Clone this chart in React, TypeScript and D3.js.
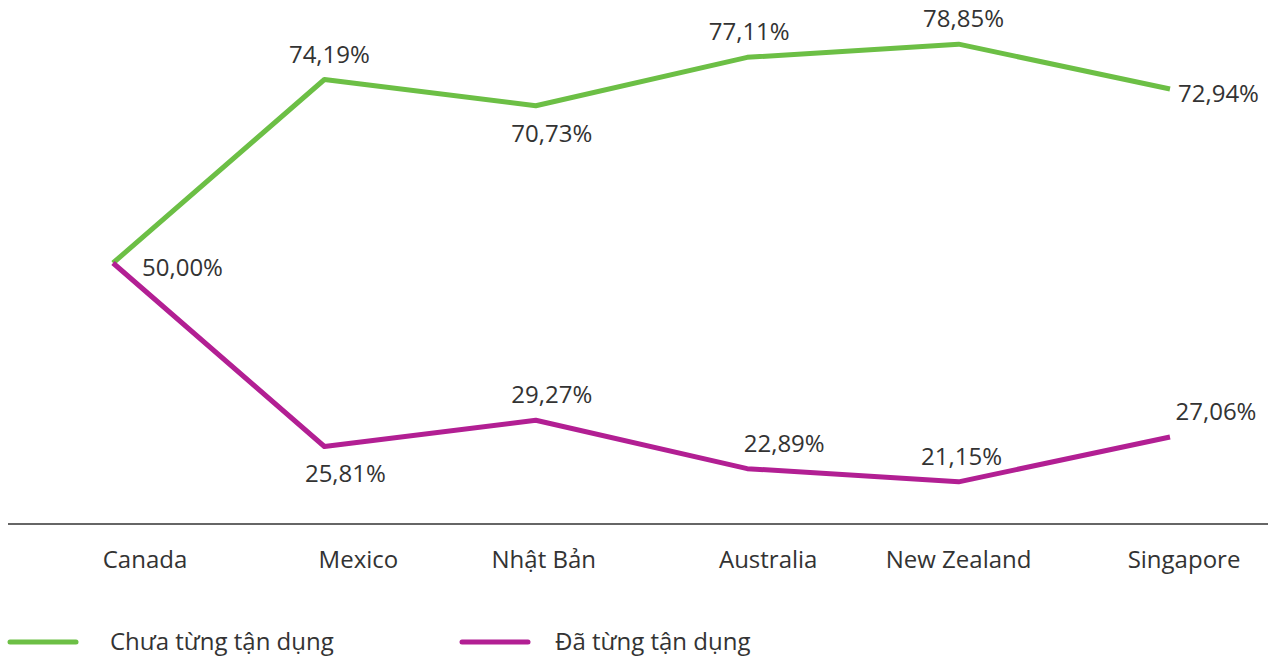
import { useEffect, useRef } from 'react'
import * as d3 from 'd3'

const categories = ['Canada', 'Mexico', 'Nhật Bản', 'Australia', 'New Zealand', 'Singapore']
const chuaTung = [50.0, 74.19, 70.73, 77.11, 78.85, 72.94]
const daTung = [50.0, 25.81, 29.27, 22.89, 21.15, 27.06]
const seriesNames = ['Chưa từng tận dụng', 'Đã từng tận dụng']
const seriesColors = ['#6cbf45', '#b21f93']

// label placement per point (layout only)
const greenPlace = ['right', 'above', 'below', 'above', 'above', 'right']
const greenDx = [29, 5, 16, 2, 5, 8]
const pinkPlace = ['none', 'below', 'above', 'above', 'above', 'above']
const pinkDx = [0, 21, 16, 37, 3, 46]
const catNudge = [32, 34, 8, 21, 0, 14]

const W = 1268
const H = 657
const fmt = (v: number) => v.toFixed(2).replace('.', ',') + '%'

export default function App() {
  const ref = useRef<SVGSVGElement>(null)
  useEffect(() => {
    const svg = d3.select(ref.current)
    svg.selectAll('*').remove()
    const font = "'Open Sans', 'Noto Sans', sans-serif"
    const textColor = '#333'

    const x = d3.scalePoint<string>().domain(categories).range([113, 1170])
    const y = d3.scaleLinear().domain([15, 85]).range([528.5, -2.5])

    // baseline axis
    svg.append('line')
      .attr('x1', 8).attr('x2', W).attr('y1', 524).attr('y2', 524)
      .attr('stroke', '#333').attr('stroke-width', 1.5)

    categories.forEach((c, i) => {
      svg.append('text')
        .attr('x', (x(c) as number) + catNudge[i]).attr('y', 568)
        .attr('text-anchor', 'middle')
        .style('font-family', font).style('font-size', '24px').attr('fill', textColor)
        .text(c)
    })

    const line = d3.line<number>()
      .x((_, i) => x(categories[i]) as number)
      .y(d => y(d))

    const all = [chuaTung, daTung]
    all.forEach((vals, s) => {
      svg.append('path')
        .attr('d', line(vals))
        .attr('fill', 'none')
        .attr('stroke', seriesColors[s])
        .attr('stroke-width', 5)
        .attr('stroke-linejoin', 'round')
    })

    const placeLabel = (v: number, i: number, place: string, dx: number) => {
      if (place === 'none') return
      const px = x(categories[i]) as number
      const py = y(v)
      let ty = py, anchor = 'middle'
      if (place === 'right') { ty = py + 13; anchor = 'start' }
      if (place === 'above') { ty = py - 17 }
      if (place === 'below') { ty = py + 36 }
      svg.append('text')
        .attr('x', px + dx).attr('y', ty)
        .attr('text-anchor', anchor)
        .style('font-family', font).style('font-size', '24px').attr('fill', textColor)
        .text(fmt(v))
    }
    chuaTung.forEach((v, i) => placeLabel(v, i, greenPlace[i], greenDx[i]))
    daTung.forEach((v, i) => placeLabel(v, i, pinkPlace[i], pinkDx[i]))

    // legend
    const legendX = [8, 460]
    seriesNames.forEach((n, s) => {
      svg.append('line')
        .attr('x1', legendX[s] + 2).attr('x2', legendX[s] + 68)
        .attr('y1', 642).attr('y2', 642)
        .attr('stroke', seriesColors[s]).attr('stroke-width', 5)
        .attr('stroke-linecap', 'round')
      svg.append('text')
        .attr('x', legendX[s] + (s === 0 ? 102 : 95)).attr('y', 650)
        .style('font-family', font).style('font-size', '24px').attr('fill', textColor)
        .text(n)
    })
  }, [])

  return (
    <svg ref={ref} width={W} height={H}
      style={{ position: 'absolute', left: 0, top: 0, background: '#fff' }} />
  )
}
